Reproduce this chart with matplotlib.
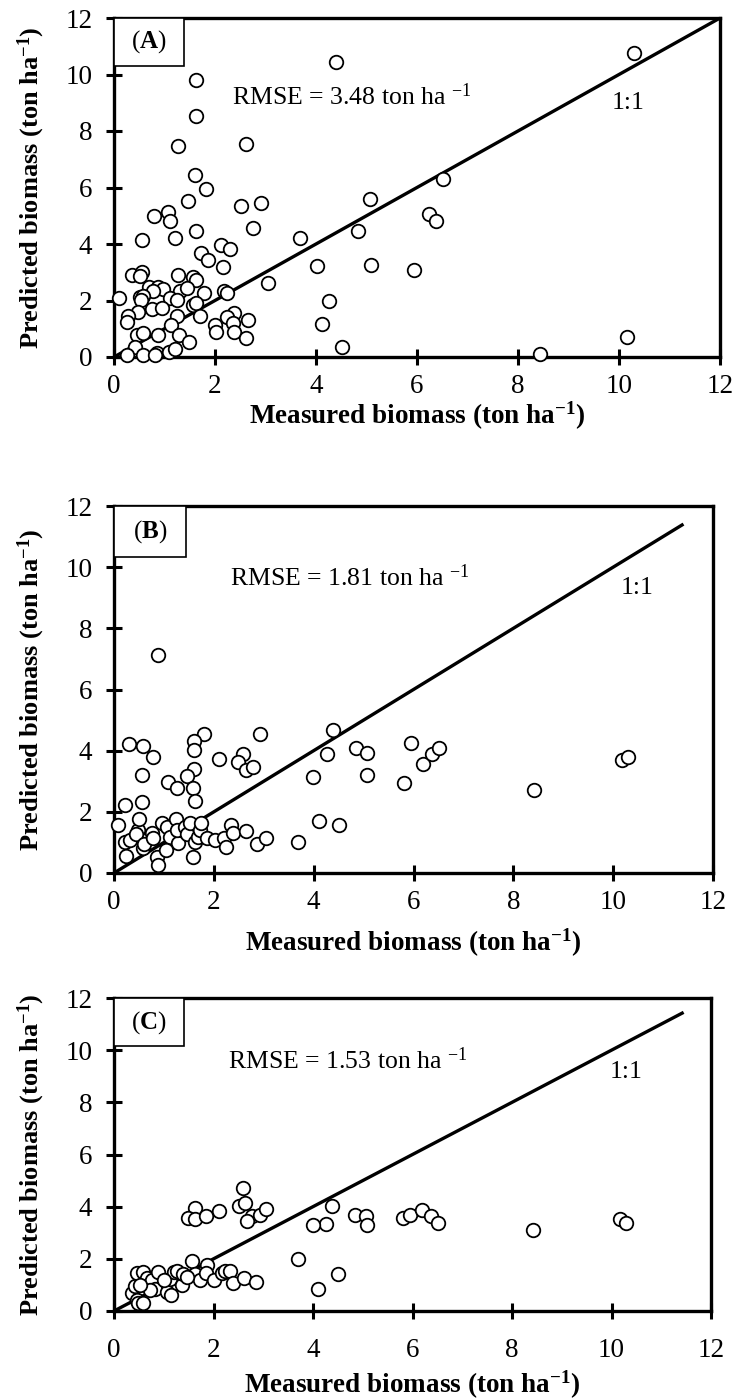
import matplotlib
matplotlib.use("Agg")
import matplotlib.pyplot as plt
from matplotlib.patches import Rectangle

plt.rcParams['font.family'] = ['Liberation Serif', 'DejaVu Serif']
plt.rcParams['mathtext.fontset'] = 'custom'
plt.rcParams['mathtext.rm'] = 'Liberation Serif'
plt.rcParams['mathtext.it'] = 'Liberation Serif:italic'
plt.rcParams['mathtext.bf'] = 'Liberation Serif:bold'

# ---------------- data ----------------
a_points = [
    (4.40, 10.46), (1.62, 9.82), (1.62, 8.53), (1.26, 7.46), (2.62, 7.55), (1.60, 6.46),
    (1.83, 5.93), (1.46, 5.51), (2.52, 5.34), (2.92, 5.44), (5.07, 5.61), (1.07, 5.15),
    (0.80, 4.99), (1.10, 4.83), (2.75, 4.56), (1.62, 4.45), (1.21, 4.22), (0.55, 4.14),
    (3.68, 4.22), (4.84, 4.46), (2.12, 3.95), (2.30, 3.83), (1.73, 3.69), (1.86, 3.43),
    (2.16, 3.18), (4.01, 3.22), (5.09, 3.24), (5.95, 3.08), (3.05, 2.61), (4.26, 1.97),
    (4.11, 1.18), (4.51, 0.35), (10.30, 10.75), (6.52, 6.30), (6.23, 5.05), (6.38, 4.82),
    (10.15, 0.72), (8.43, 0.12),
    (0.35, 2.90), (0.55, 3.02), (0.52, 2.88), (1.26, 2.90), (1.56, 2.84), (1.63, 2.73),
    (0.70, 2.49), (0.88, 2.49), (0.98, 2.40), (0.78, 2.34), (1.30, 2.34), (1.44, 2.43),
    (1.79, 2.25), (2.17, 2.34), (2.24, 2.28), (0.09, 2.08), (0.52, 2.13), (0.58, 2.16),
    (0.54, 2.02), (1.11, 2.08), (1.24, 2.02), (1.57, 1.84), (1.63, 1.92), (0.75, 1.69),
    (0.95, 1.72), (0.48, 1.60), (0.28, 1.45), (0.25, 1.25), (1.24, 1.45), (1.71, 1.45),
    (1.13, 1.13), (2.00, 1.13), (2.02, 0.90), (2.37, 1.55), (2.24, 1.40), (2.36, 1.19),
    (2.66, 1.31), (2.37, 0.90), (2.62, 0.66), (1.28, 0.78), (0.88, 0.78), (0.45, 0.78),
    (0.58, 0.84), (1.49, 0.54), (0.42, 0.34), (0.25, 0.07), (0.58, 0.07), (0.85, 0.15),
    (1.08, 0.19), (1.21, 0.27), (0.81, 0.07),
]
a_measured = [p[0] for p in a_points]
a_predicted = [p[1] for p in a_points]

b_points = [
    (0.89, 7.14), (0.31, 4.22), (0.58, 4.15), (0.79, 3.80), (0.56, 3.22), (1.81, 4.55),
    (1.61, 4.33), (1.61, 4.02), (2.92, 4.54), (2.11, 3.72), (2.58, 3.88), (2.49, 3.64),
    (2.64, 3.37), (2.78, 3.48), (1.61, 3.39), (1.46, 3.17), (1.08, 2.98), (1.26, 2.79),
    (1.59, 2.77), (1.63, 2.35), (0.22, 2.22), (0.56, 2.33), (4.39, 4.66), (4.27, 3.89),
    (3.99, 3.13), (4.84, 4.10), (5.06, 3.91), (5.07, 3.20), (4.10, 1.70), (4.50, 1.58),
    (3.68, 1.02), (5.94, 4.24), (5.80, 2.93), (6.19, 3.58), (6.37, 3.88), (6.52, 4.08),
    (8.42, 2.73), (10.17, 3.69), (10.30, 3.78),
    (0.09, 1.56), (0.22, 1.02), (0.32, 1.09), (0.49, 1.40), (0.51, 1.78), (0.45, 1.27),
    (0.25, 0.55), (0.58, 0.83), (0.60, 0.96), (0.76, 1.31), (0.79, 1.13), (0.86, 0.52),
    (0.88, 0.25), (0.97, 1.65), (1.06, 1.51), (1.12, 1.18), (1.24, 1.75), (1.29, 0.98),
    (1.27, 1.40), (1.42, 1.51), (1.47, 1.29), (1.53, 1.62), (1.63, 1.02), (1.68, 1.18),
    (1.58, 0.52), (1.73, 1.40), (1.75, 1.64), (1.86, 1.13), (2.03, 1.07), (2.21, 1.13),
    (2.25, 0.85), (2.35, 1.58), (2.38, 1.31), (2.64, 1.37), (2.86, 0.94), (3.05, 1.15),
    (1.04, 0.74),
]
b_measured = [p[0] for p in b_points]
b_predicted = [p[1] for p in b_points]

c_points = [
    (2.59, 4.72), (1.62, 3.95), (1.48, 3.56), (1.62, 3.53), (1.84, 3.63), (2.12, 3.82),
    (2.51, 4.01), (2.64, 4.14), (2.78, 3.65), (2.68, 3.44), (2.93, 3.69), (3.06, 3.91),
    (4.38, 4.01), (4.26, 3.33), (3.99, 3.28), (4.84, 3.67), (5.06, 3.63), (5.08, 3.28),
    (5.81, 3.56), (5.95, 3.69), (6.19, 3.88), (6.38, 3.65), (6.52, 3.37), (8.42, 3.12),
    (10.18, 3.53), (10.30, 3.37), (3.69, 1.99), (4.51, 1.41), (4.11, 0.85),
    (0.36, 0.68), (0.42, 0.94), (0.46, 0.42), (0.49, 0.29), (0.59, 0.32), (0.47, 1.45),
    (0.59, 1.51), (0.66, 1.26), (0.76, 1.19), (0.83, 0.83), (0.89, 1.51), (1.06, 0.74),
    (1.12, 1.22), (1.14, 0.62), (1.20, 1.51), (1.26, 1.54), (1.37, 1.00), (1.39, 1.41),
    (1.57, 1.90), (1.62, 1.41), (1.73, 1.19), (1.87, 1.77), (1.84, 1.45), (2.00, 1.19),
    (2.17, 1.45), (2.24, 1.54), (2.34, 1.54), (2.39, 1.09), (2.62, 1.28), (2.86, 1.10),
    (1.47, 1.32), (1.00, 1.19), (0.73, 0.81), (0.52, 1.00),
]
c_measured = [p[0] for p in c_points]
c_predicted = [p[1] for p in c_points]

panel_labels = ['A', 'B', 'C']
rmse_values = ['3.48', '1.81', '1.53']
ticks = [0, 2, 4, 6, 8, 10, 12]
line_end = [12.0, 11.38, 11.42]

# ---------------- layout ----------------
W, H = 739, 1400
fig = plt.figure(figsize=(W / 100, H / 100), dpi=100)

def ax_rect(l, r, t, b):
    return [l / W, 1 - b / H, (r - l) / W, (b - t) / H]

rects = [ax_rect(114, 720, 18, 357), ax_rect(114, 713, 506, 873), ax_rect(114, 711, 998, 1311)]
box_sizes = [(0.1155, 0.142), (0.121, 0.138), (0.117, 0.154)]
rmse_pos = [(2.33, 9.21), (2.32, 9.66), (2.30, 9.59)]
one_pos = [(9.85, 8.98), (10.15, 9.31), (9.96, 9.18)]
xtick_pads = [7, 7, 14]
xlabel_pads = [0, 8, 4]

datasets = [(a_measured, a_predicted), (b_measured, b_predicted), (c_measured, c_predicted)]

for i, (xs, ys) in enumerate(datasets):
    ax = fig.add_axes(rects[i])
    ax.set_xlim(0, 12)
    ax.set_ylim(0, 12)
    ax.plot([0, line_end[i]], [0, line_end[i]], color='black', lw=2.4, zorder=2)
    ax.scatter(xs, ys, s=95, facecolors='white', edgecolors='black', linewidths=1.3, zorder=3,
               clip_on=False)
    ax.set_xticks(ticks)
    ax.set_yticks(ticks)
    ax.set_xticklabels([str(t) for t in ticks])
    ax.set_yticklabels([str(t) for t in ticks])
    ax.tick_params(direction='inout', length=11, width=2.2, labelsize=19.5, colors='black')
    ax.tick_params(axis='y', pad=10)
    ax.tick_params(axis='x', pad=xtick_pads[i])
    for sp in ax.spines.values():
        sp.set_linewidth(2.4)
        sp.set_color('black')
    ax.set_xlabel(r'Measured biomass (ton ha$^{\mathbf{-1}}$)', fontsize=19.5, fontweight='bold',
                  labelpad=xlabel_pads[i])
    ax.set_ylabel(r'Predicted biomass (ton ha$^{\mathbf{-1}}$)', fontsize=19, fontweight='bold',
                  labelpad=13)
    bw, bh = box_sizes[i]
    ax.add_patch(Rectangle((0, 1 - bh), bw, bh, transform=ax.transAxes, facecolor='white',
                           edgecolor='black', lw=1.2, zorder=4))
    ax.text(bw / 2, 1 - bh / 2, '(' + r'$\mathbf{' + panel_labels[i] + '}$' + ')',
            transform=ax.transAxes, ha='center', va='center', fontsize=18, zorder=5)
    ax.text(rmse_pos[i][0], rmse_pos[i][1], 'RMSE = ' + rmse_values[i] + r' ton ha $^{-1}$',
            ha='left', va='center', fontsize=18.5)
    ax.text(one_pos[i][0], one_pos[i][1], '1:1', ha='left', va='center', fontsize=18.5)

fig.savefig('out.png', dpi=100)
